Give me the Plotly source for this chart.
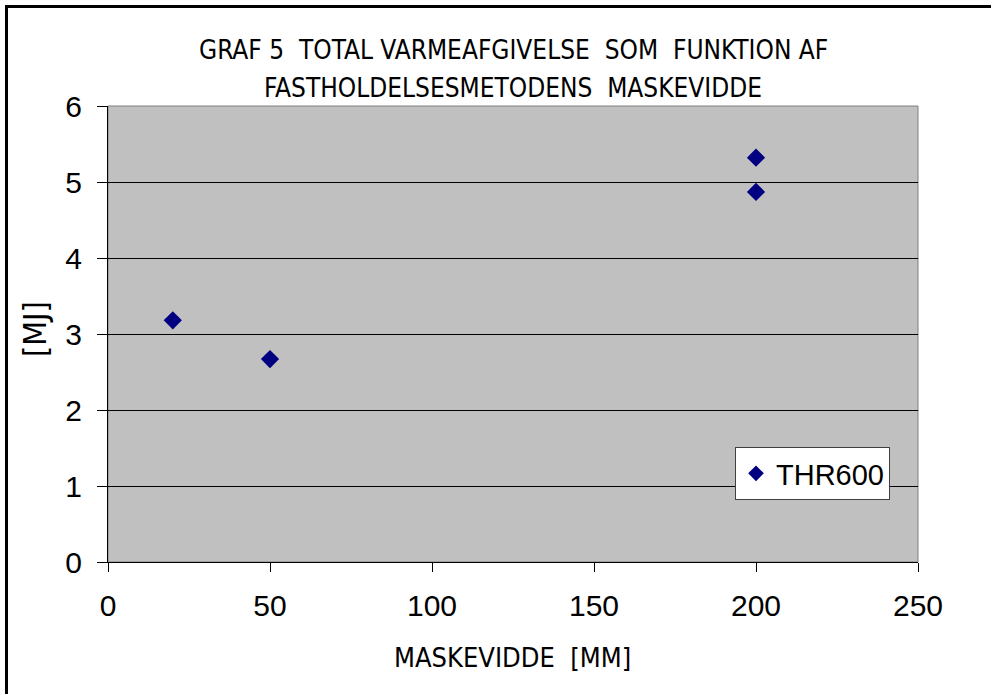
import plotly.graph_objects as go

maskevidde = [20, 50, 200, 200]
thr600 = [3.18, 2.67, 5.32, 4.87]
series_name = "THR600"
title_lines = ["GRAF 5  TOTAL VARMEAFGIVELSE  SOM  FUNKTION AF", "FASTHOLDELSESMETODENS  MASKEVIDDE"]
x_title = "MASKEVIDDE  [MM]"
y_title = "[MJ]"

W, H = 992, 695
L, R, T, B = 108, 74, 106, 133
pw, ph = W - L - R, H - T - B

def px_x(x):
    return (x - L) / pw

def px_y(y):
    return 1 - (y - T) / ph

fig = go.Figure()
fig.add_trace(go.Scatter(
    x=maskevidde, y=thr600, mode="markers", name=series_name,
    marker=dict(symbol="diamond", size=14, color="#000080"),
))

narrow = "Liberation Sans Narrow, Arial Narrow, DejaVu Sans Condensed, sans-serif"
arial = "Arial, Liberation Sans, sans-serif"

fig.update_layout(
    width=W, height=H,
    margin=dict(l=L, r=R, t=T, b=B),
    paper_bgcolor="white",
    plot_bgcolor="#C0C0C0",
    showlegend=True,
    legend=dict(
        x=px_x(735), y=px_y(447), xanchor="left", yanchor="top",
        bgcolor="white", bordercolor="#404040", borderwidth=1,
        font=dict(family=arial, size=29, color="black"),
        itemsizing="constant",
    ),
    xaxis=dict(
        range=[0, 250], tickvals=[0, 50, 100, 150, 200, 250],
        showgrid=False, zeroline=False,
        showline=True, linecolor="black", linewidth=1,
        ticks="outside", ticklen=9, tickcolor="black",
        ticklabelstandoff=8,
        tickfont=dict(family=arial, size=30, color="black"),
    ),
    yaxis=dict(
        range=[0, 6], tickvals=[0, 1, 2, 3, 4, 5, 6],
        showgrid=True, gridcolor="black", gridwidth=1,
        zeroline=False,
        showline=True, linecolor="black", linewidth=1,
        ticks="outside", ticklen=10, tickcolor="black",
        ticklabelstandoff=9,
        tickfont=dict(family=arial, size=30, color="black"),
    ),
)

fig.add_annotation(xref="paper", yref="paper", x=px_x(513), y=px_y(50),
                   text=title_lines[0], showarrow=False, yanchor="middle",
                   font=dict(family=narrow, size=26, color="black"))
fig.add_annotation(xref="paper", yref="paper", x=px_x(513), y=px_y(88),
                   text=title_lines[1], showarrow=False, yanchor="middle",
                   font=dict(family=narrow, size=26, color="black"))
fig.add_annotation(xref="paper", yref="paper", x=px_x(512), y=px_y(657),
                   text=x_title, showarrow=False, yanchor="middle",
                   font=dict(family=narrow, size=27, color="black"))
fig.add_annotation(xref="paper", yref="paper", x=px_x(35), y=px_y(329),
                   text=y_title, showarrow=False, textangle=-90,
                   xanchor="center", yanchor="middle",
                   font=dict(family=narrow, size=32, color="black"))

# plot area border (grey on top/right)
fig.add_shape(type="rect", xref="paper", yref="paper", x0=0, y0=0, x1=1, y1=1,
              line=dict(color="#808080", width=1), layer="below")
# outer chart border: top and left edges (right/bottom fall outside the picture)
fig.add_shape(type="line", xref="paper", yref="paper",
              x0=px_x(5), y0=px_y(6.5), x1=px_x(991), y1=px_y(6.5),
              line=dict(color="black", width=3), layer="above")
fig.add_shape(type="line", xref="paper", yref="paper",
              x0=px_x(6.5), y0=px_y(5), x1=px_x(6.5), y1=px_y(694),
              line=dict(color="black", width=3), layer="above")

fig.write_html("out.html", config={"displayModeBar": False},
               post_script="document.body.style.margin='0';document.body.style.overflow='hidden';")
